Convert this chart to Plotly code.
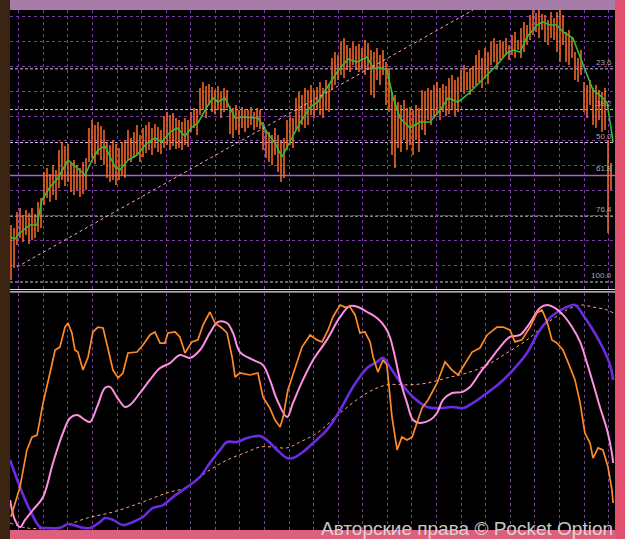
import plotly.graph_objects as go

# ---------------- data ----------------
# upper panel: price bars (high / low per bar, arbitrary price points)
bar_high = [
    65, 62, 78, 82, 75, 80, 77, 82, 76, 88,
    92, 118, 122, 116, 125, 120, 140, 148, 144, 146,
    128, 130, 125, 122, 128, 132, 162, 170, 165, 168,
    164, 160, 148, 145, 150, 146, 142, 148, 150, 160,
    152, 158, 165, 155, 162, 165, 168, 162, 166, 163,
    160, 174, 178, 175, 177, 172, 170, 168, 172, 170,
    178, 182, 180, 202, 208, 204, 206, 203, 200, 204,
    198, 202, 200, 184, 182, 185, 180, 183, 181, 180,
    183, 178, 182, 180, 168, 160, 158, 155, 162, 155,
    150, 152, 170, 175, 172, 192, 198, 195, 202, 200,
    205, 200, 203, 208, 202, 210, 206, 232, 238, 235,
    248, 252, 245, 242, 248, 244, 246, 242, 250, 247,
    240, 238, 242, 235, 240, 228, 222, 198, 195, 188,
    185, 190, 182, 183, 180, 185, 182, 200, 198, 202,
    200, 205, 208, 202, 206, 204, 212, 215, 210, 213,
    220, 225, 218, 222, 224, 235, 240, 232, 242, 238,
    248, 252, 246, 250, 248, 252, 245, 255, 258, 250,
    262, 268, 265, 275, 280, 277, 280, 276, 275, 270,
    278, 272, 278, 280, 275, 258, 260, 252, 238, 232,
    240, 208, 205, 210, 202, 205, 200, 198, 202, 150,
    127,
]
bar_low = [
    10, 22, 45, 52, 48, 55, 46, 50, 52, 58,
    62, 85, 92, 88, 95, 90, 102, 110, 104, 108,
    98, 95, 100, 93, 96, 100, 128, 132, 126, 135,
    130, 125, 112, 108, 110, 105, 110, 115, 112, 130,
    128, 132, 135, 128, 133, 137, 140, 135, 142, 138,
    136, 142, 145, 140, 144, 141, 142, 140, 145, 143,
    158, 162, 155, 175, 180, 172, 185, 178, 176, 180,
    172, 178, 182, 156, 152, 160, 155, 162, 158, 162,
    165, 160, 163, 161, 140, 132, 128, 125, 135, 118,
    108, 112, 140, 145, 142, 160, 158, 165, 162, 165,
    175, 172, 180, 175, 172, 180, 178, 200, 205, 210,
    215, 212, 220, 218, 225, 220, 218, 222, 215, 220,
    195, 192, 210, 205, 215, 185, 178, 135, 122, 142,
    138, 150, 140, 145, 135, 150, 138, 160, 155, 170,
    165, 172, 175, 170, 178, 174, 176, 180, 174, 178,
    198, 196, 200, 195, 202, 205, 208, 202, 212, 206,
    225, 228, 222, 230, 232, 235, 230, 235, 232, 240,
    232, 238, 245, 250, 255, 258, 252, 260, 248, 245,
    252, 250, 238, 228, 245, 228, 225, 232, 210, 208,
    215, 178, 172, 185, 165, 162, 170, 158, 160, 57,
    100,
]

# moving average (green)
ma_t = [-0.3, 1.3, 3, 6.3, 8.7, 10.3, 13, 15.7, 19, 22, 24.7, 27, 29, 31.3, 34.7,
        36.3, 39, 42, 45.3, 48, 50.3, 53, 55.3, 58, 60.3, 62.3, 65.3, 67.3, 69, 71.3,
        74.7, 77.3, 82.3, 85.3, 88, 90.3, 93, 96.3, 99.7, 102.3, 105.3, 108.7, 112.3,
        115.3, 118.7, 120.7, 123.7, 125.3, 127.3, 129.7, 133, 136.3, 139.7, 143, 145.7,
        149, 152, 155.3, 158.7, 162, 165.3, 167.3, 169.7, 172, 175.3, 177.3, 179.7, 182,
        184, 187.3, 189.7, 192, 194, 197, 198.7, 200.7]
ma_v = [53, 51, 57, 65, 65, 90, 103, 112, 130, 122, 115, 130, 140, 144, 123,
        120, 130, 135, 147, 152, 148, 158, 162, 154, 163, 167, 183, 192, 188, 192,
        172, 173, 172, 158, 147, 133, 148, 167, 183, 188, 202, 218, 231,
        228, 233, 222, 222, 220, 193, 172, 162, 168, 168, 180, 192,
        188, 195, 205, 215, 225, 237, 240, 238, 253, 265, 268, 265, 265,
        258, 252, 233, 215, 200, 193, 187, 148]

# trend line (two anchor points: bar index, price)
trend_t = [2, 154]
trend_v = [23, 280]

# Fibonacci retracement
fib_price_100 = 8
fib_price_0 = 287
fib_levels = [23.6, 38.2, 50.0, 61.8, 76.4, 100.0]
fib_labels = ["23.6", "38.2", "50.0", "61.8", "76.4", "100.0"]

# lower panel oscillators (0..100)
fast_t = [0, 3, 5.3, 7, 8.7, 10.7, 13, 14.7, 16.3, 18, 19, 20.3, 21.3, 22.3, 24, 25.7, 27.3,
          29, 30.7, 32.3, 34, 35.7, 37.3, 39, 42, 44, 46.3, 48, 49.7, 51.3, 52.3, 54.7, 56.3,
          58, 60.3, 62.3, 64, 66.3, 68, 70.3, 72, 73.7, 74.7, 76.3, 79.7, 82.3, 84, 86.3, 88,
          89.7, 90.7, 92.3, 94.7, 97, 99.7, 102, 103.7, 105.7, 107.3, 109.7, 111.3, 113, 114.7,
          116.3, 118, 119.7, 120.7, 122.3, 124, 125.3, 127, 128.7, 130.3, 132, 133.7, 135.3,
          137, 139, 142, 144.7, 147, 149, 150.7, 153.7, 156.3, 158.7, 162, 164, 166.3, 168,
          170.3, 173, 175.3, 177, 178.7, 180.3, 182, 184, 186.3, 188, 189.7, 191.3, 193, 194,
          195.7, 197.3, 199, 200.3, 200.7]
fast_v = [5, 18.2, 34.7, 40.4, 41.3, 55.6, 68.9, 79.1, 80.4, 89.3, 91.1, 86.7, 79.1, 78.2, 70.2,
          76, 87.1, 89.3, 88.9, 80, 70.2, 66.7, 68.9, 77.8, 78.2, 81.3, 85.8, 87.1, 82.2, 82.2,
          86.7, 87.1, 84.9, 77.8, 82.7, 83.6, 90.2, 96, 91.1, 88.9, 86.7, 76, 67.1, 68.9, 68,
          68.9, 58.2, 53.3, 48, 44.9, 49.3, 61.3, 71.6, 80.4, 85.8, 83.6, 82.7, 88, 93.8, 99.1,
          98.2, 98.2, 94.7, 86.7, 87.1, 82.7, 76, 69.3, 74.7, 72.4, 49.3, 34.7, 40.4, 39.1, 40.4,
          47.1, 53.3, 56.9, 64.4, 73.8, 70.2, 68, 71.6, 78.2, 80, 85.8, 89.3, 89.3, 88, 82.7,
          83.6, 89.3, 95.6, 96.9, 91.6, 83.6, 82.2, 79.1, 71.6, 65.8, 55.6, 42.2, 37.8, 31.1,
          35.6, 34.7, 27.1, 16.9, 11.1]

slow_t = [-0.3, 1.3, 3, 4.7, 7.3, 10.7, 14, 17.3, 19.7, 22, 24.7, 26.3, 28.7, 31.3, 33, 35.3,
          38, 39.7, 43, 46.3, 49.7, 53, 56.3, 59.7, 63, 66.3, 69, 72, 74, 76.3, 80.7, 84, 86.3,
          88.7, 92, 94, 97.3, 100.7, 105.3, 109.7, 113, 115.7, 118.7, 122, 124.7, 126.3, 128,
          129.7, 132, 134, 136.3, 139.7, 142, 144, 147, 150.3, 153, 156.3, 159.7, 163, 166.3,
          169.7, 172, 174, 176.3, 178.7, 181.3, 184, 187, 189.7, 192, 194, 196.3, 198.7, 200.3,
          200.7]
slow_v = [12.4, 3.6, 0.4, 3.6, 8, 13.8, 28.9, 42.2, 48.9, 50.2, 48, 47.1, 53.8, 62.2, 62.7, 58.2,
          53.8, 54.7, 60, 65.8, 71.1, 73.3, 76.9, 75.6, 79.1, 86.7, 91.6, 91.1, 86.7, 78.2, 74.7,
          72.4, 65.8, 56.9, 49.3, 55.6, 65.8, 74.7, 83.6, 93.8, 98.7, 98.2, 96, 93.3, 89.3, 84.9,
          76, 65.8, 55.6, 48, 46.7, 48, 51.1, 56.9, 60, 60.4, 62.7, 68.9, 74.7, 80.4, 84.9, 85.8,
          89.3, 93.3, 97.8, 99.1, 97.8, 94.7, 89.3, 82.7, 73.3, 64.4, 53.8, 43.6, 33.3, 28.9]

signal_t = [-0.3, 3, 6.3, 9.7, 12, 16.3, 19, 23, 26.3, 29.7, 31.3, 34, 37.3, 40.7, 44, 47.3,
            50.7, 54, 58.7, 63, 66.3, 69.7, 72, 75.3, 78.7, 83, 85.3, 88.7, 92, 94, 97.3, 100.7,
            105.3, 109.7, 114, 118.7, 122, 124, 126.3, 129.7, 134, 138.7, 143, 147.3, 150.7, 154,
            158.7, 163, 167.3, 172, 176.3, 180.7, 185.3, 188, 190.7, 194, 197.3, 199.7, 200.7]
signal_v = [30.2, 18.2, 8, 0.4, 0, 0, 1.8, 0.4, 0, 2.7, 4.4, 3.6, 1.3, 2.7, 4.9, 8.9, 10.2, 13.8,
            18.2, 22.7, 28.9, 34.7, 38.2, 38.2, 40, 40.9, 39.1, 34.7, 31.1, 31.1, 33.8, 37.8,
            43.6, 52.4, 62.7, 71.1, 73.8, 75.6, 71.6, 64.9, 58.2, 53.8, 53.3, 53.8, 53.3, 55.6,
            60, 64.4, 70.2, 77.8, 88, 94.7, 98.2, 99.1, 94.7, 88, 80, 72.4, 65.8]

trend2_t = [-0.3, 5.3, 16.3, 25.3, 34, 43, 52, 58.7, 65.3, 72, 78.7, 83, 87.3, 92, 96.3, 102,
            109.7, 118.7, 125.3, 132, 138.7, 145.3, 152, 158.7, 165.3, 172, 178.7, 185.3, 189.7,
            194, 198.7, 200.7]
trend2_v = [2.2, 0, 0.4, 4.4, 7.1, 11.1, 15.6, 18.2, 24.9, 30.2, 33.8, 36, 36, 35.6, 38.2, 42.2,
            51.1, 60, 63.6, 63.6, 64.4, 66.7, 68.9, 72.4, 77.8, 83.6, 91.1, 96.9, 99.1, 98.2,
            96.9, 95.6]

watermark = "Авторские права © Pocket Option"

# ---------------- figure ----------------
W, H = 625, 539
GRID = "#7a3c9e"

fig = go.Figure()

# price bars as vertical segments
bx, by = [], []
for i, (h, l) in enumerate(zip(bar_high, bar_low)):
    bx += [i, i, None]
    by += [l, h, None]
fig.add_trace(go.Scatter(x=bx, y=by, mode="lines", line=dict(color="#ff6e2a", width=1.5),
                         xaxis="x", yaxis="y", hoverinfo="skip"))
fig.add_trace(go.Scatter(x=ma_t, y=ma_v, mode="lines", line=dict(color="#36bc36", width=1.6),
                         xaxis="x", yaxis="y", hoverinfo="skip"))
fig.add_trace(go.Scatter(x=trend_t, y=trend_v, mode="lines",
                         line=dict(color="#ffa6cc", width=1, dash="3px,3px"),
                         xaxis="x", yaxis="y", hoverinfo="skip"))

# lower panel
fig.add_trace(go.Scatter(x=trend2_t, y=trend2_v, mode="lines", line_shape="spline",
                         line=dict(color="#ffa67a", width=1, dash="3px,3px"),
                         xaxis="x2", yaxis="y2", hoverinfo="skip"))
fig.add_trace(go.Scatter(x=signal_t, y=signal_v, mode="lines", line_shape="spline",
                         line=dict(color="#6a2ce0", width=2.6),
                         xaxis="x2", yaxis="y2", hoverinfo="skip"))
fig.add_trace(go.Scatter(x=slow_t, y=slow_v, mode="lines", line_shape="spline",
                         line=dict(color="#ff8fe2", width=2),
                         xaxis="x2", yaxis="y2", hoverinfo="skip"))
fig.add_trace(go.Scatter(x=fast_t, y=fast_v, mode="lines",
                         line=dict(color="#ff8a2a", width=1.7),
                         xaxis="x2", yaxis="y2", hoverinfo="skip"))

shapes = []
annotations = []

# fibonacci lines and labels
for lvl, lab in zip(fib_levels, fib_labels):
    price = fib_price_100 + (fib_price_0 - fib_price_100) * (100 - lvl) / 100
    if lab == "61.8":
        ln = dict(color="#a862cc", width=1.5)
    else:
        ln = dict(color="#c8c8c8", width=1, dash="3px,2px")
    shapes.append(dict(type="line", xref="x domain", yref="y", x0=0, x1=1, y0=price, y1=price,
                       line=ln, layer="below"))
    annotations.append(dict(text=lab, xref="paper", yref="y", x=614 / W, y=price,
                            xanchor="right", yanchor="bottom", showarrow=False,
                            font=dict(size=8, color="#a8a8a8", family="Liberation Sans")))

# frame strips
def rect(x0, x1, y0, y1, color):
    return dict(type="rect", xref="paper", yref="paper", x0=x0 / W, x1=x1 / W,
                y0=1 - y1 / H, y1=1 - y0 / H, fillcolor=color, line=dict(width=0), layer="above")

shapes += [
    rect(0, 10, 0, H, "#3b2412"),
    rect(10, 615, 0, 10, "#a77ca8"),
    rect(615, W, 0, H, "#e0526f"),
    rect(10, 615, 530, H, "#dc5f7c"),
]
for yy in (289.5, 291.8):
    shapes.append(dict(type="line", xref="paper", yref="paper", x0=10 / W, x1=615 / W,
                       y0=1 - yy / H, y1=1 - yy / H, line=dict(color="#e6e6e6", width=1.2)))

annotations.append(dict(text=watermark, xref="paper", yref="paper", x=467 / W, y=1 - 528.5 / H,
                        xanchor="center", yanchor="middle", showarrow=False,
                        font=dict(size=19, color="rgba(225,225,225,0.9)", family="Liberation Sans")))

x_common = dict(domain=[10 / W, 615 / W], range=[-0.33, 201.33], showgrid=True, gridcolor=GRID,
                griddash="3px,3px", gridwidth=1, tick0=2.57, dtick=8.193, showticklabels=False,
                zeroline=False, showline=False, ticks="")

fig.update_layout(
    width=W, height=H,
    margin=dict(l=0, r=0, t=0, b=0),
    paper_bgcolor="#000000", plot_bgcolor="#000000",
    showlegend=False, hovermode=False,
    xaxis=dict(anchor="y", **x_common),
    xaxis2=dict(anchor="y2", matches="x", **x_common),
    yaxis=dict(domain=[1 - 289 / H, 1 - 10 / H], range=[1, 280], anchor="x",
               showgrid=True, gridcolor=GRID, griddash="3px,3px", gridwidth=1,
               tick0=25, dtick=24.83, showticklabels=False, zeroline=False, ticks=""),
    yaxis2=dict(domain=[1 - 530 / H, 1 - 293 / H], range=[-0.89, 104.44], anchor="x2",
                showgrid=False, showticklabels=False, zeroline=False, ticks=""),
    shapes=shapes,
    annotations=annotations,
)

fig.write_html(
    "out.html",
    config={"displayModeBar": False},
    post_script="document.body.style.margin='0';document.body.style.overflow='hidden';",
)
